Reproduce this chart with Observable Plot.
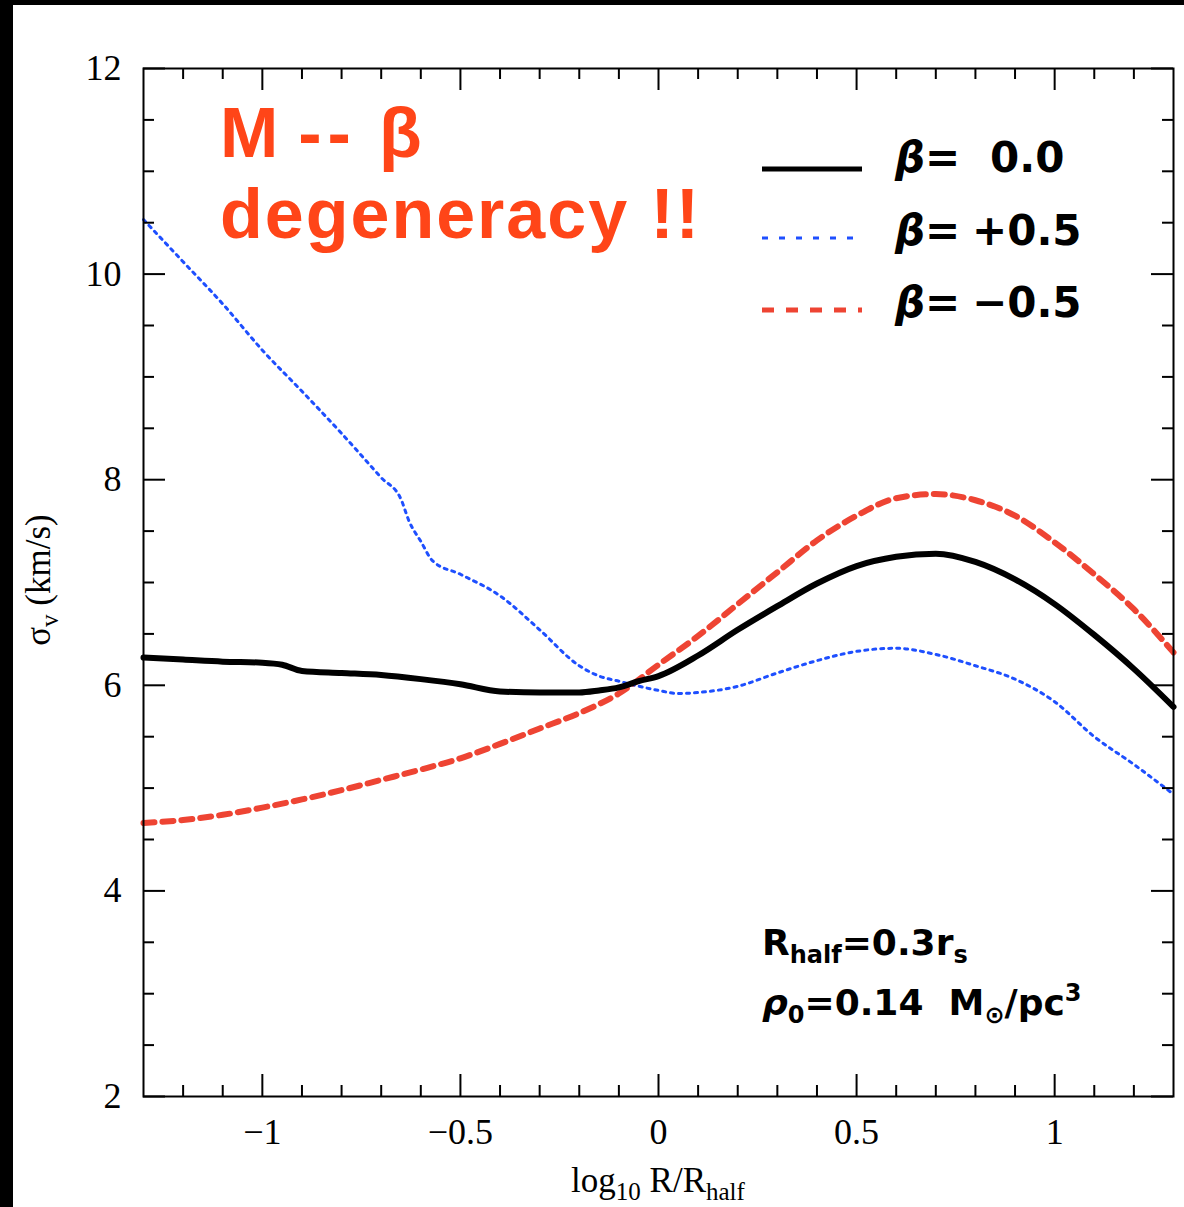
<!DOCTYPE html>
<html><head><meta charset="utf-8">
<script src="https://cdn.jsdelivr.net/npm/d3@7"></script>
<script src="https://cdn.jsdelivr.net/npm/@observablehq/plot@0.6"></script>
<style>
body{margin:0;background:#fff;}
#wrap{position:relative;width:1184px;height:1207px;overflow:hidden;background:#fff;}
#chart{position:absolute;left:0;top:0;}
#over{position:absolute;left:0;top:0;pointer-events:none;}
#bandL{position:absolute;left:0;top:0;width:13px;height:1207px;background:#000;}
#bandT{position:absolute;left:0;top:0;width:1184px;height:5px;background:#000;}
</style></head>
<body>
<div id="wrap">
<div id="chart"></div>
<svg id="over" width="1184" height="1207" xmlns="http://www.w3.org/2000/svg">
  <g font-family="'Liberation Sans', Arial, sans-serif" font-weight="bold" fill="#ff4518" font-size="70">
    <text x="220" y="157">M<tspan dx="20" letter-spacing="6">--</tspan><tspan dx="22">β</tspan></text>
    <text x="220" y="238" letter-spacing="2">degeneracy !!</text>
  </g>
  <g id="legend" font-family="'DejaVu Sans', sans-serif" font-weight="bold" font-size="42" fill="#000"></g>
  <g font-family="'DejaVu Sans', sans-serif" font-weight="bold" font-size="36" fill="#000">
    <text x="762" y="955">R<tspan font-size="24" dy="8">half</tspan><tspan dy="-8">=0.3r</tspan><tspan font-size="24" dy="8">s</tspan></text>
    <text x="762" y="1015" xml:space="preserve"><tspan font-style="italic">ρ</tspan><tspan font-size="24" dy="8">0</tspan><tspan dy="-8">=0.14  M</tspan><tspan font-size="24" dy="8">⊙</tspan><tspan dy="-8">/pc</tspan><tspan font-size="24" dy="-14">3</tspan></text>
  </g>
  <g font-family="'Liberation Serif', serif" font-size="35" fill="#000">
    <text x="658" y="1192" text-anchor="middle">log<tspan font-size="25" dy="8">10</tspan><tspan dy="-8"> R/R</tspan><tspan font-size="25" dy="8">half</tspan></text>
    <text transform="translate(50,580) rotate(-90)" text-anchor="middle">σ<tspan font-size="25" dy="8">v</tspan><tspan dy="-8"> (km/s)</tspan></text>
  </g>
</svg>
<div id="bandL"></div><div id="bandT"></div>
</div>
<script>
// ---- data ----
const xBlack = [-1.3,-1.2,-1.1,-1.0,-0.95,-0.9,-0.8,-0.7,-0.6,-0.5,-0.4,-0.3,-0.2,-0.15,-0.1,-0.05,0,0.1,0.2,0.3,0.4,0.5,0.6,0.7,0.8,0.9,1.0,1.1,1.2,1.3];
const yBlack = [6.27,6.25,6.23,6.22,6.20,6.14,6.12,6.10,6.06,6.01,5.94,5.93,5.93,5.95,5.98,6.04,6.09,6.29,6.54,6.77,6.99,7.16,7.25,7.28,7.20,7.03,6.79,6.49,6.16,5.79];

const xBlue = [-1.3,-1.2,-1.1,-1.0,-0.9,-0.8,-0.7,-0.65,-0.63,-0.6,-0.57,-0.5,-0.4,-0.3,-0.2,-0.15,-0.1,0,0.05,0.1,0.2,0.3,0.4,0.5,0.6,0.7,0.8,0.9,1.0,1.1,1.2,1.3];
const yBlue = [10.53,10.12,9.71,9.26,8.86,8.45,8.02,7.81,7.60,7.40,7.21,7.08,6.87,6.54,6.19,6.09,6.04,5.95,5.92,5.93,5.99,6.12,6.24,6.33,6.36,6.30,6.19,6.06,5.84,5.50,5.23,4.94];

const xRed = [-1.3,-1.2,-1.1,-1.0,-0.9,-0.8,-0.7,-0.6,-0.5,-0.4,-0.3,-0.2,-0.1,0,0.1,0.2,0.3,0.4,0.5,0.6,0.7,0.8,0.9,1.0,1.1,1.2,1.3];
const yRed = [4.66,4.69,4.74,4.81,4.89,4.98,5.08,5.18,5.29,5.43,5.58,5.73,5.92,6.20,6.48,6.79,7.10,7.41,7.65,7.82,7.86,7.80,7.65,7.39,7.08,6.74,6.32];

const xMajor = [-1,-0.5,0,0.5,1];
const xMinor = [-1.2,-1.1,-0.9,-0.8,-0.7,-0.6,-0.4,-0.3,-0.2,-0.1,0.1,0.2,0.3,0.4,0.6,0.7,0.8,0.9,1.1,1.2];
const yMajor = [2,4,6,8,10,12];
const yMinor = [2.5,3,3.5,4.5,5,5.5,6.5,7,7.5,8.5,9,9.5,10.5,11,11.5];

const legendValues = ["0.0","+0.5","−0.5"];

// ---- layout ----
const W = 1184, H = 1207;
const mL = 143, mR = 11, mT = 68, mB = 111;
const fw = W - mL - mR, fh = H - mT - mB;
const majLen = 22, minLen = 11;

const styles = {
  black: {stroke: "#000", strokeWidth: 6, strokeDasharray: null},
  blue:  {stroke: "#1e4fff", strokeWidth: 3, strokeDasharray: "3,5"},
  red:   {stroke: "#ee4433", strokeWidth: 6, strokeDasharray: "11,8"}
};

const mk = (xs, ys) => xs.map((x, i) => ({x, y: ys[i]}));
const fmt = d => (d < 0 ? "−" : "") + Math.abs(d);

const plot = Plot.plot({
  width: W, height: H,
  marginLeft: mL, marginRight: mR, marginTop: mT, marginBottom: mB,
  x: {domain: [-1.3, 1.3]},
  y: {domain: [2, 12]},
  style: {fontFamily: "'Liberation Serif', serif", fontSize: "36px", color: "#000", background: "#fff"},
  marks: [
    Plot.line(mk(xRed, yRed), {x: "x", y: "y", curve: "monotone-x", ...styles.red}),
    Plot.line(mk(xBlue, yBlue), {x: "x", y: "y", curve: "monotone-x", ...styles.blue}),
    Plot.line(mk(xBlack, yBlack), {x: "x", y: "y", curve: "monotone-x", ...styles.black}),
    Plot.tickX(xMajor, {x: d => d, insetTop: fh - majLen, strokeWidth: 2}),
    Plot.tickX(xMinor, {x: d => d, insetTop: fh - minLen, strokeWidth: 2}),
    Plot.tickX(xMajor, {x: d => d, insetBottom: fh - majLen, strokeWidth: 2}),
    Plot.tickX(xMinor, {x: d => d, insetBottom: fh - minLen, strokeWidth: 2}),
    Plot.tickY(yMajor, {y: d => d, insetRight: fw - majLen, strokeWidth: 2}),
    Plot.tickY(yMinor, {y: d => d, insetRight: fw - minLen, strokeWidth: 2}),
    Plot.tickY(yMajor, {y: d => d, insetLeft: fw - majLen, strokeWidth: 2}),
    Plot.tickY(yMinor, {y: d => d, insetLeft: fw - minLen, strokeWidth: 2}),
    Plot.axisX({ticks: xMajor, tickSize: 0, tickPadding: 22, tickFormat: fmt, label: null, fontSize: 36}),
    Plot.axisY({ticks: yMajor, tickSize: 0, tickPadding: 22, tickFormat: fmt, label: null, fontSize: 36}),
    Plot.frame({stroke: "#000", strokeWidth: 2})
  ]
});
document.getElementById("chart").appendChild(plot);

// legend (overlay)
const ns = "http://www.w3.org/2000/svg";
const lg = document.getElementById("legend");
const rows = [
  {key: "black", ly: 169, ty: 172, vx: 990},
  {key: "blue",  ly: 238, ty: 245, vx: 972},
  {key: "red",   ly: 310, ty: 317, vx: 972}
];
rows.forEach((r, i) => {
  const s = styles[r.key];
  const ln = document.createElementNS(ns, "line");
  ln.setAttribute("x1", 762); ln.setAttribute("x2", 862);
  ln.setAttribute("y1", r.ly); ln.setAttribute("y2", r.ly);
  ln.setAttribute("stroke", s.stroke);
  ln.setAttribute("stroke-width", r.key === "blue" ? 3 : 5);
  if (r.key === "blue") ln.setAttribute("stroke-dasharray", "6,11");
  if (r.key === "red") ln.setAttribute("stroke-dasharray", "12,12");
  lg.appendChild(ln);
  const tb = document.createElementNS(ns, "text");
  tb.setAttribute("x", 895); tb.setAttribute("y", r.ty);
  tb.setAttribute("font-style", "italic");
  tb.textContent = "β=";
  lg.appendChild(tb);
  const tv = document.createElementNS(ns, "text");
  tv.setAttribute("x", r.vx); tv.setAttribute("y", r.ty);
  tv.textContent = legendValues[i];
  lg.appendChild(tv);
});
</script>
</body></html>
